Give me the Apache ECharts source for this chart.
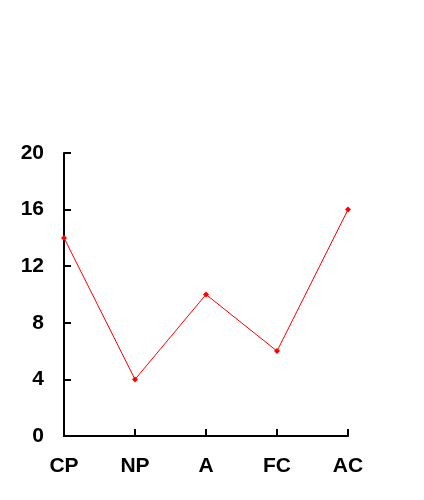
<!DOCTYPE html>
<html><head><meta charset="utf-8">
<script src="https://cdn.jsdelivr.net/npm/echarts@6/dist/echarts.min.js"></script>
<style>html,body{margin:0;padding:0;background:#fff}#c{width:424px;height:500px}</style>
</head><body><div id="c"></div>
<script>
const categories = ['CP', 'NP', 'A', 'FC', 'AC'];
const values = [14, 4, 10, 6, 16];
const yTicks = [0, 4, 8, 12, 16, 20];

const chart = echarts.init(document.getElementById('c'), null, {renderer: 'canvas'});
const labelFont = {fontFamily: 'Liberation Sans, Arial, sans-serif', fontWeight: 'bold', fontSize: 21, color: '#000'};
chart.setOption({
  animation: false,
  backgroundColor: '#fff',
  grid: {left: 64, right: 76, top: 153, bottom: 64, containLabel: false},
  xAxis: {
    type: 'category', data: categories, boundaryGap: false,
    axisLine: {lineStyle: {color: '#000', width: 2}},
    axisTick: {inside: true, length: 7, lineStyle: {color: '#000', width: 2}},
    axisLabel: Object.assign({margin: 20}, labelFont),
    splitLine: {show: false}
  },
  yAxis: {
    type: 'value', min: yTicks[0], max: yTicks[yTicks.length - 1], interval: 4,
    axisLine: {show: true, lineStyle: {color: '#000', width: 2}},
    axisTick: {show: true, inside: true, length: 7, lineStyle: {color: '#000', width: 2}},
    axisLabel: Object.assign({margin: 20}, labelFont),
    splitLine: {show: false}
  },
  series: [{
    type: 'line', data: values,
    lineStyle: {color: '#ff0000', width: 1},
    itemStyle: {color: '#ff0000'},
    symbol: 'diamond', symbolSize: 6, showSymbol: true
  }]
});
</script></body></html>
